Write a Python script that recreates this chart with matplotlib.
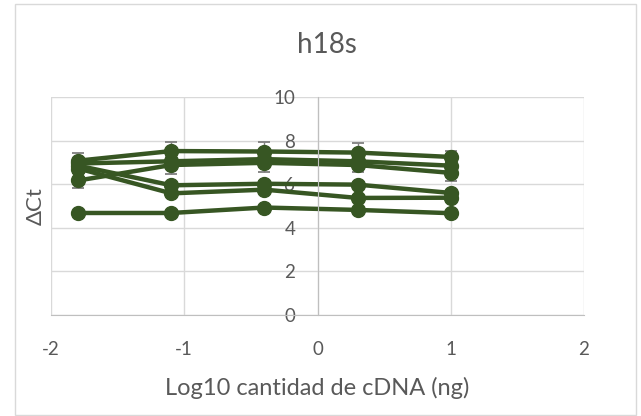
import matplotlib.pyplot as plt
import numpy as np
from matplotlib.patches import Rectangle

# cDNA dilution series (ng), plotted as log10
cdna_ng = [0.016, 0.08, 0.4, 2, 10]
x = np.log10(cdna_ng)

# delta Ct per sample
s1 = [7.08, 7.52, 7.50, 7.45, 7.25]
s2 = [6.95, 7.05, 7.15, 7.05, 6.85]
s3 = [6.17, 6.88, 6.98, 6.88, 6.52]
s4 = [6.85, 5.95, 6.02, 5.98, 5.60]
s5 = [6.72, 5.58, 5.75, 5.37, 5.38]
s6 = [4.68, 4.68, 4.93, 4.82, 4.67]

e1 = [0.33, 0.42, 0.42, 0.42, 0.28]
e2 = [0.15, 0.15, 0.15, 0.15, 0.15]
e3 = [0.34, 0.43, 0.40, 0.32, 0.38]
e4 = [0.12, 0.12, 0.12, 0.12, 0.12]
e5 = [0.12, 0.12, 0.12, 0.12, 0.12]
e6 = [0.08, 0.08, 0.08, 0.08, 0.08]

series = [s1, s2, s3, s4, s5, s6]
errors = [e1, e2, e3, e4, e5, e6]

green = '#375623'
txt = '#595959'
grid = '#d9d9d9'

plt.rcParams['font.family'] = ['Lato', 'DejaVu Sans']
plt.rcParams['axes.unicode_minus'] = False

fig = plt.figure(figsize=(6.41, 4.16), dpi=100)
fig.patches.append(Rectangle((15/641, 1/416), 621/641, 411/416, transform=fig.transFigure,
                             fill=False, edgecolor=grid, linewidth=1))

ax = fig.add_axes([51/641, 101/416, 533/641, 218/416])

for y, e in zip(series, errors):
    ax.errorbar(x, y, yerr=e, color=green, marker='o', ms=10, lw=3.2,
                ecolor='#7f7f7f', elinewidth=1, capsize=4.5, capthick=1.3)

ax.set_xlim(-2, 2)
ax.set_ylim(0, 10)
ax.set_xticks([-2, -1, 0, 1, 2])
ax.set_yticks([0, 2, 4, 6, 8, 10])
ax.grid(True, color=grid, linewidth=1)
ax.set_axisbelow(True)

for side in ['top', 'right']:
    ax.spines[side].set_visible(False)
ax.spines['left'].set_position(('data', 0))
ax.spines['left'].set_color('#bfbfbf')
ax.spines['bottom'].set_color('#bfbfbf')
ax.tick_params(axis='both', length=0, labelsize=13.5, labelcolor=txt)
ax.tick_params(axis='y', pad=16)
ax.tick_params(axis='x', pad=19)

fig.text(327/641, 1 - 45/416, 'h18s', ha='center', va='center', fontsize=20, color=txt)
fig.text(317/641, 1 - 388/416, 'Log10 cantidad de cDNA (ng)', ha='center', va='center',
         fontsize=17, color=txt)
fig.text(36/641, 1 - 206/416, 'ΔCt', ha='center', va='center', rotation=90,
         fontsize=16, color=txt)

fig.savefig('out.png', dpi=100)
